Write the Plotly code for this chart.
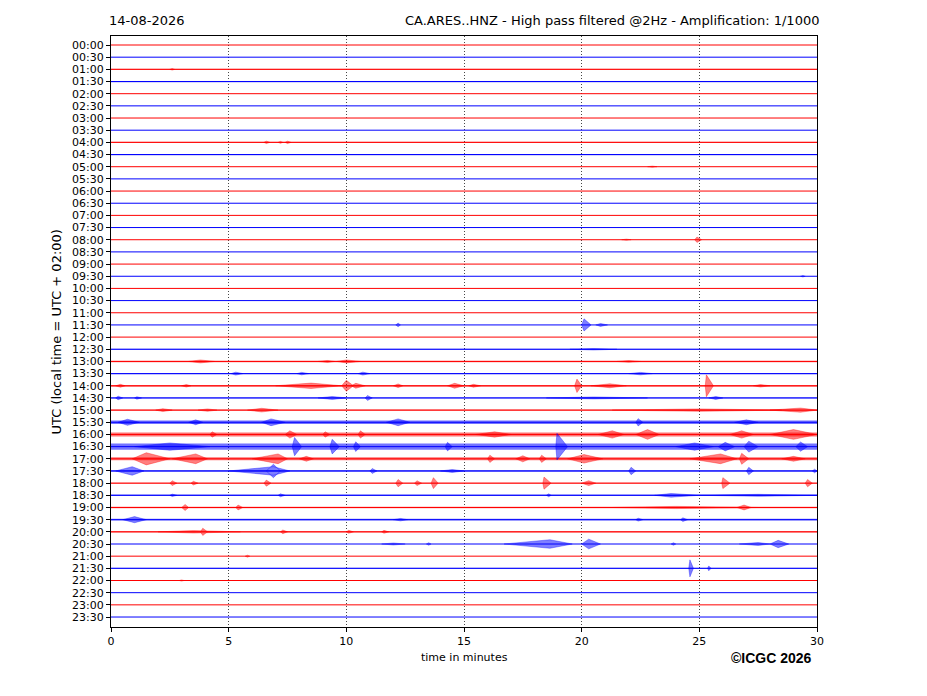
import plotly.graph_objects as go

# helicorder rows, one every 30 min
ROW_LABELS = [
    "00:00", "00:30", "01:00", "01:30", "02:00", "02:30", "03:00", "03:30",
    "04:00", "04:30", "05:00", "05:30", "06:00", "06:30", "07:00", "07:30",
    "08:00", "08:30", "09:00", "09:30", "10:00", "10:30", "11:00", "11:30",
    "12:00", "12:30", "13:00", "13:30", "14:00", "14:30", "15:00", "15:30",
    "16:00", "16:30", "17:00", "17:30", "18:00", "18:30", "19:00", "19:30",
    "20:00", "20:30", "21:00", "21:30", "22:00", "22:30", "23:00", "23:30",
]

# background noise half-amplitude per row (in row spacings)
NOISE_LEVEL = [
    0.03, 0.03, 0.04, 0.05, 0.03, 0.03, 0.03, 0.03,
    0.05, 0.05, 0.03, 0.03, 0.03, 0.03, 0.03, 0.03,
    0.03, 0.03, 0.03, 0.03, 0.03, 0.03, 0.03, 0.03,
    0.03, 0.04, 0.06, 0.05, 0.07, 0.05, 0.05, 0.15,
    0.16, 0.25, 0.12, 0.07, 0.04, 0.06, 0.06, 0.07,
    0.06, 0.03, 0.03, 0.04, 0.03, 0.03, 0.03, 0.03,
]

# bursts: (row, start min, peak min, end min, half-amplitude)
BURSTS = [
    ("01:00", 2.5, 2.6, 2.7, 0.06),
    ("04:00", 6.5, 6.6, 6.75, 0.10), ("04:00", 7.1, 7.2, 7.3, 0.08), ("04:00", 7.4, 7.5, 7.65, 0.10),
    ("05:00", 22.8, 23.0, 23.2, 0.05),
    ("08:00", 21.7, 21.9, 22.1, 0.05), ("08:00", 24.8, 24.9, 25.1, 0.22),
    ("09:30", 29.3, 29.4, 29.5, 0.06),
    ("11:30", 12.1, 12.2, 12.3, 0.15), ("11:30", 20.0, 20.1, 20.4, 0.50), ("11:30", 20.6, 20.8, 21.1, 0.12),
    ("12:30", 19.5, 20.5, 21.5, 0.06),
    ("13:00", 3.3, 3.8, 4.4, 0.12), ("13:00", 8.8, 9.2, 9.5, 0.08), ("13:00", 9.6, 10.0, 10.6, 0.12),
    ("13:00", 21.5, 22.0, 22.5, 0.07),
    ("13:30", 5.1, 5.3, 5.6, 0.12), ("13:30", 7.9, 8.1, 8.4, 0.10), ("13:30", 10.5, 10.7, 11.0, 0.12),
    ("13:30", 22.0, 22.5, 23.0, 0.10),
    ("14:00", 0.2, 0.4, 0.6, 0.12), ("14:00", 3.0, 3.2, 3.4, 0.10), ("14:00", 7.0, 8.5, 9.8, 0.22),
    ("14:00", 9.8, 10.0, 10.3, 0.45), ("14:00", 10.2, 10.4, 10.8, 0.20), ("14:00", 12.0, 12.2, 12.4, 0.15),
    ("14:00", 14.3, 14.6, 15.0, 0.20), ("14:00", 15.2, 15.4, 15.7, 0.12), ("14:00", 19.7, 19.8, 20.0, 0.55),
    ("14:00", 20.4, 21.2, 21.9, 0.16), ("14:00", 25.25, 25.3, 25.6, 0.90), ("14:00", 27.3, 27.6, 28.0, 0.10),
    ("14:30", 0.2, 0.3, 0.5, 0.15), ("14:30", 1.0, 1.1, 1.3, 0.10), ("14:30", 8.8, 9.4, 10.0, 0.12),
    ("14:30", 10.8, 10.9, 11.1, 0.20), ("14:30", 18.5, 20.5, 22.8, 0.08), ("14:30", 25.4, 25.7, 26.0, 0.12),
    ("15:00", 1.9, 2.2, 2.6, 0.12), ("15:00", 3.7, 4.1, 4.5, 0.10), ("15:00", 5.8, 6.4, 7.1, 0.15),
    ("15:00", 21.3, 25.0, 28.5, 0.10), ("15:00", 28.0, 29.3, 30.0, 0.17),
    ("15:30", 0.3, 0.7, 1.2, 0.25), ("15:30", 3.3, 3.6, 3.9, 0.20), ("15:30", 6.4, 6.8, 7.4, 0.28),
    ("15:30", 11.7, 12.2, 12.7, 0.28), ("15:30", 22.3, 22.4, 22.6, 0.30), ("15:30", 26.5, 27.0, 27.5, 0.20),
    ("16:00", 4.2, 4.3, 4.5, 0.22), ("16:00", 7.4, 7.6, 7.9, 0.30), ("16:00", 9.0, 9.1, 9.3, 0.22),
    ("16:00", 10.5, 10.6, 10.8, 0.30), ("16:00", 15.5, 16.3, 17.0, 0.22), ("16:00", 20.7, 21.3, 21.8, 0.30),
    ("16:00", 22.3, 22.8, 23.3, 0.40), ("16:00", 26.3, 26.8, 27.3, 0.30), ("16:00", 28.0, 29.0, 30.0, 0.40),
    ("16:30", 1.0, 2.5, 4.2, 0.30), ("16:30", 7.7, 7.8, 8.1, 0.75), ("16:30", 9.3, 9.4, 9.7, 0.60),
    ("16:30", 10.3, 10.4, 10.6, 0.40), ("16:30", 14.2, 14.3, 14.5, 0.35), ("16:30", 18.9, 18.95, 19.4, 1.10),
    ("16:30", 24.0, 24.8, 25.6, 0.30), ("16:30", 25.8, 26.1, 26.5, 0.35), ("16:30", 26.9, 27.1, 27.5, 0.45),
    ("16:30", 29.1, 29.3, 29.6, 0.38),
    ("17:00", 0.9, 1.5, 2.5, 0.50), ("17:00", 2.6, 3.6, 4.1, 0.40), ("17:00", 6.0, 7.1, 7.5, 0.40),
    ("17:00", 8.0, 8.3, 8.6, 0.20), ("17:00", 16.0, 16.1, 16.3, 0.30), ("17:00", 17.2, 17.5, 17.8, 0.25),
    ("17:00", 18.2, 18.3, 18.5, 0.30), ("17:00", 19.4, 20.1, 20.9, 0.35), ("17:00", 24.6, 25.9, 26.6, 0.40),
    ("17:00", 26.7, 26.8, 27.1, 0.45), ("17:00", 28.5, 29.0, 29.5, 0.20),
    ("17:30", 0.2, 0.9, 1.4, 0.35), ("17:30", 5.0, 6.9, 7.6, 0.35), ("17:30", 6.6, 6.9, 7.2, 0.55),
    ("17:30", 11.0, 11.1, 11.3, 0.20), ("17:30", 14.0, 14.5, 15.0, 0.12), ("17:30", 22.0, 22.1, 22.3, 0.30),
    ("17:30", 27.0, 27.1, 27.3, 0.30), ("17:30", 29.8, 29.9, 30.0, 0.15),
    ("18:00", 2.5, 2.6, 2.8, 0.20), ("18:00", 3.4, 3.5, 3.7, 0.15), ("18:00", 6.5, 6.6, 6.8, 0.25),
    ("18:00", 12.1, 12.2, 12.4, 0.30), ("18:00", 12.9, 13.0, 13.2, 0.20), ("18:00", 13.6, 13.7, 13.9, 0.45),
    ("18:00", 18.35, 18.4, 18.7, 0.50), ("18:00", 20.0, 20.3, 20.6, 0.20), ("18:00", 25.95, 26.0, 26.3, 0.45),
    ("18:00", 29.5, 29.6, 29.8, 0.30),
    ("18:30", 2.5, 2.6, 2.8, 0.10), ("18:30", 7.1, 7.2, 7.4, 0.12), ("18:30", 18.5, 18.6, 18.7, 0.12),
    ("18:30", 23.1, 23.8, 25.0, 0.15), ("18:30", 25.0, 27.5, 30.0, 0.08),
    ("19:00", 3.0, 3.15, 3.3, 0.25), ("19:00", 5.3, 5.4, 5.6, 0.20), ("19:00", 21.3, 24.0, 27.5, 0.09),
    ("19:00", 26.6, 26.9, 27.2, 0.20),
    ("19:30", 0.5, 1.0, 1.5, 0.25), ("19:30", 12.0, 12.3, 12.6, 0.10), ("19:30", 22.3, 22.4, 22.6, 0.12),
    ("19:30", 24.2, 24.3, 24.5, 0.15),
    ("20:00", 2.0, 3.5, 5.5, 0.10), ("20:00", 3.8, 3.9, 4.1, 0.30), ("20:00", 7.2, 7.3, 7.5, 0.15),
    ("20:00", 10.0, 10.1, 10.3, 0.12), ("20:00", 11.5, 11.6, 11.8, 0.12),
    ("20:30", 11.5, 12.0, 12.5, 0.08), ("20:30", 13.4, 13.5, 13.6, 0.10), ("20:30", 16.7, 18.65, 19.6, 0.35),
    ("20:30", 20.0, 20.3, 20.8, 0.40), ("20:30", 23.8, 23.9, 24.0, 0.10), ("20:30", 26.7, 27.5, 28.0, 0.12),
    ("20:30", 28.0, 28.35, 28.8, 0.30),
    ("21:00", 5.7, 5.8, 5.9, 0.08),
    ("21:30", 24.55, 24.6, 24.75, 0.70), ("21:30", 25.35, 25.4, 25.5, 0.20),
    ("22:00", 2.9, 3.0, 3.1, 0.05),
]

X_TICKS = [0, 5, 10, 15, 20, 25, 30]
DURATION = 30

RED = "rgb(255,0,0)"
BLUE = "rgb(0,0,255)"
FONT = "DejaVu Sans"


def row_color(label):
    return RED if label.endswith(":00") else BLUE


def with_alpha(color, a):
    return color.replace("rgb", "rgba").replace(")", f",{a})")


fig = go.Figure()

for color in (RED, BLUE):
    band_x, band_y, line_x, line_y = [], [], [], []
    for i, lab in enumerate(ROW_LABELS):
        if row_color(lab) != color:
            continue
        n = NOISE_LEVEL[i]
        band_x += [0, DURATION, DURATION, 0, 0, None]
        band_y += [i - n, i - n, i + n, i + n, i - n, None]
        line_x += [0, DURATION, None]
        line_y += [i, i, None]
    fig.add_trace(go.Scatter(
        x=band_x, y=band_y, mode="lines", fill="toself",
        fillcolor=with_alpha(color, 0.55),
        line=dict(width=0), hoverinfo="skip", showlegend=False,
    ))
    fig.add_trace(go.Scatter(
        x=line_x, y=line_y, mode="lines", line=dict(color=color, width=1),
        hoverinfo="skip", showlegend=False,
    ))
    bx, by = [], []
    for lab, t0, tp, t1, amp in BURSTS:
        if row_color(lab) != color:
            continue
        i = ROW_LABELS.index(lab)
        bx += [t0, tp, t1, tp, t0, None]
        by += [i, i - amp, i, i + amp, i, None]
    fig.add_trace(go.Scatter(
        x=bx, y=by, mode="lines", fill="toself",
        fillcolor=with_alpha(color, 0.5),
        line=dict(color=with_alpha(color, 0.7), width=0.5), hoverinfo="skip", showlegend=False,
    ))

fig.update_layout(
    width=919,
    height=688,
    margin=dict(l=103, r=110, t=28, b=69),
    plot_bgcolor="white",
    paper_bgcolor="white",
    font=dict(family=FONT, size=11, color="black"),
    annotations=[
        dict(text="14-08-2026", xref="paper", yref="paper", x=-0.006, y=1.027,
             xanchor="left", yanchor="middle", showarrow=False, font=dict(size=13)),
        dict(text="CA.ARES..HNZ - High pass filtered @2Hz - Amplification: 1/1000",
             xref="paper", yref="paper", x=1.006, y=1.027,
             xanchor="right", yanchor="middle", showarrow=False, font=dict(size=13)),
        dict(text="UTC (local time = UTC + 02:00)", xref="paper", yref="paper",
             x=-0.0765, y=0.5, textangle=-90, xanchor="center", yanchor="middle",
             showarrow=False, font=dict(size=13)),
        dict(text="time in minutes", xref="paper", yref="paper", x=0.5, y=-0.051,
             xanchor="center", yanchor="middle", showarrow=False, font=dict(size=11)),
        dict(text="<b>©ICGC 2026</b>", xref="paper", yref="paper", x=0.996, y=-0.0525,
             xanchor="right", yanchor="middle", showarrow=False,
             font=dict(family="Liberation Sans", size=14)),
    ],
)
fig.update_xaxes(
    range=[0, DURATION],
    tickvals=X_TICKS,
    ticks="outside", ticklen=4, tickcolor="black",
    showline=True, linecolor="black", linewidth=1, mirror=True,
    showgrid=True, gridcolor="rgb(70,70,70)", gridwidth=0.6, griddash="1px,2px",
    zeroline=False,
)
fig.update_yaxes(
    range=[47.82, -0.74],
    tickvals=list(range(len(ROW_LABELS))),
    ticktext=ROW_LABELS,
    ticks="outside", ticklen=4, tickcolor="black",
    showline=True, linecolor="black", linewidth=1, mirror=True,
    showgrid=False, zeroline=False,
)

fig.write_html("out.html")
